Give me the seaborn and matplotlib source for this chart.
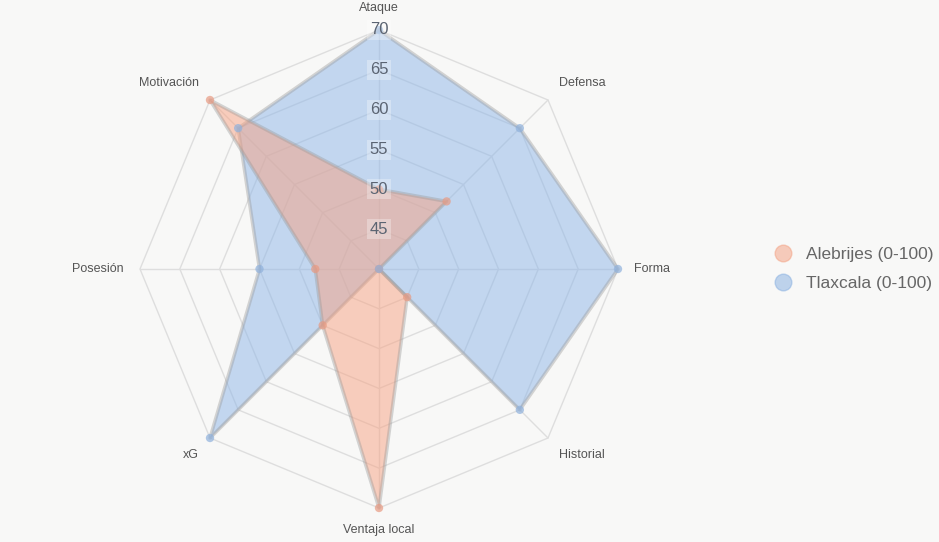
import numpy as np
import pandas as pd
import seaborn as sns
import matplotlib.pyplot as plt
from matplotlib.lines import Line2D

categorias = ["Ataque", "Defensa", "Forma", "Historial", "Ventaja local", "xG", "Posesión", "Motivación"]
alebrijes = [50, 52, 40, 45, 70, 50, 48, 70]
tlaxcala = [70, 65, 70, 65, 40, 70, 55, 65]
equipos = ["Alebrijes (0-100)", "Tlaxcala (0-100)"]
ticks_r = [45, 50, 55, 60, 65, 70]

sns.set_theme(style="white")
plt.rcParams['font.family'] = ['Liberation Sans', 'DejaVu Sans']

bg = '#f8f8f7'
fill_cols = ['#f7a282', '#8db6e8']
pt_cols = ['#e89a82', '#8fb1dc']

n = len(categorias)
theta = np.arange(n) * 2 * np.pi / n

df = pd.DataFrame({
    'theta': np.concatenate([theta, theta]),
    'valor': alebrijes + tlaxcala,
    'equipo': [equipos[0]] * n + [equipos[1]] * n,
})

fig = plt.figure(figsize=(9.39, 5.42), dpi=100)
fig.patch.set_facecolor(bg)
ax = fig.add_axes([140 / 939, 34 / 542, 478 / 939, 478 / 542], projection='polar')
ax.set_theta_zero_location('N')
ax.set_theta_direction(-1)
ax.set_ylim(40, 70)
ax.grid(False)
ax.spines['polar'].set_visible(False)
ax.set_xticks([])
ax.set_yticks([])
ax.patch.set_alpha(0)

# octagon grid + spokes
tc = np.append(theta, theta[0])
for r in ticks_r:
    ax.plot(tc, [r] * (n + 1), color='#dedede', lw=1, zorder=1, clip_on=False)
for t in theta:
    ax.plot([t, t], [40, 70], color='#dedede', lw=1, zorder=1, clip_on=False)

# series: blue below, orange on top
zs = {0: 4, 1: 2}
for i, eq in enumerate(equipos):
    sub = df[df['equipo'] == eq]
    vals = np.append(sub['valor'].values, sub['valor'].values[0])
    ax.fill(tc, vals, color=fill_cols[i], alpha=0.5, lw=0, zorder=zs[i], clip_on=False)
    ax.plot(tc, vals, color='#9a9a9a', alpha=0.4, lw=2.5, zorder=zs[i] + 1, clip_on=False)

sns.scatterplot(data=df, x='theta', y='valor', hue='equipo', palette=pt_cols,
                s=36, alpha=0.7, edgecolor='none', legend=False, ax=ax, zorder=6, clip_on=False)
ax.set_xlabel('')
ax.set_ylabel('')

# radial tick labels
for r in ticks_r:
    ax.text(0, r, str(r), ha='center', va='center', fontsize=12, color='#5b6472', zorder=7,
            bbox=dict(boxstyle='square,pad=0.15', facecolor='white', edgecolor='none', alpha=0.3))

# category labels
ali = [('center', 'bottom'), ('left', 'bottom'), ('left', 'center'), ('left', 'top'),
       ('center', 'top'), ('right', 'top'), ('right', 'center'), ('right', 'bottom')]
for t, lab, (ha, va) in zip(theta, categorias, ali):
    ax.text(t, 72, lab, ha=ha, va=va, fontsize=9, color='#555555')

handles = [Line2D([], [], ls='none', marker='o', markersize=12, markerfacecolor=c,
                  markeredgecolor=c, alpha=0.55) for c in ['#f4a588', '#8db3e2']]
leg = fig.legend(handles, equipos, loc='center left', bbox_to_anchor=(750 / 939, 1 - 269 / 542),
                 frameon=False, fontsize=12.5, handletextpad=0.35, labelspacing=0.8)
for txt in leg.get_texts():
    txt.set_color('#666666')

fig.savefig('out.png', dpi=100, facecolor=bg)
